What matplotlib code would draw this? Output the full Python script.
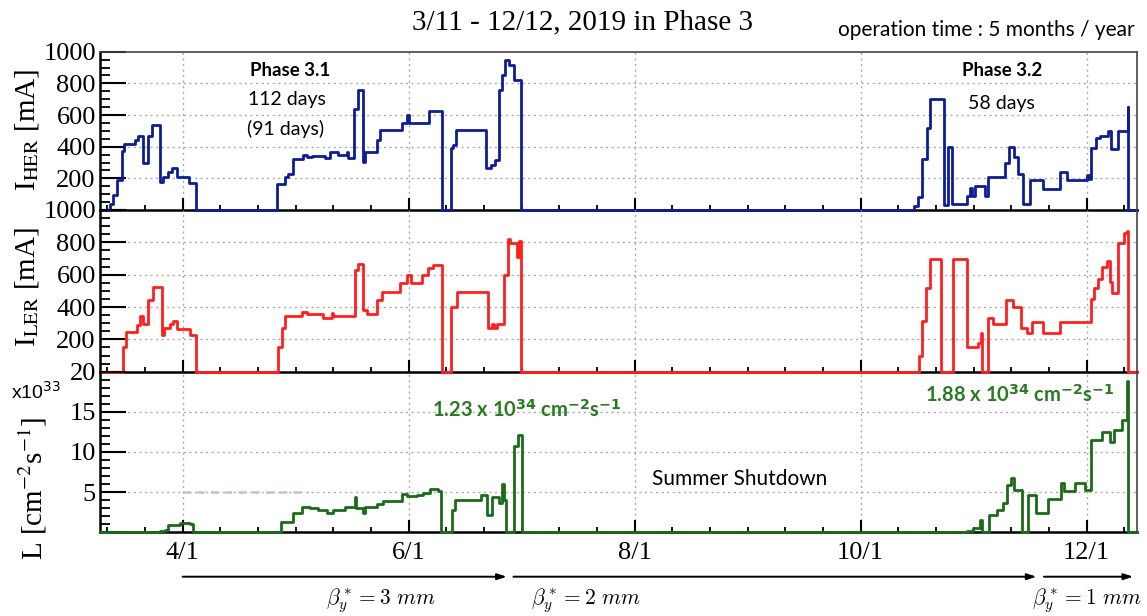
import matplotlib
matplotlib.use("Agg")
import matplotlib.pyplot as plt
import numpy as np
from matplotlib.transforms import blended_transform_factory

# ---------------- data (day of year 2019) ----------------
her_days = [68.7, 69.5, 71.4, 72.2, 73.3, 74.6, 75.2, 78.1, 79.0, 80.3, 81.7, 82.7, 84.9, 85.7,
            87.1, 88.1, 89.5, 92.7, 94.6, 116.5, 118.6, 119.4, 120.8, 123.5, 124.6, 125.9,
            129.4, 130.8, 132.9, 135.4, 135.6, 137.3, 138.3, 139.7, 140.2, 143.5, 144.3,
            150.2, 151.6, 152.1, 157.4, 161.0, 163.4, 164.0, 164.8, 173.0, 174.2, 175.3,
            176.4, 177.2, 178.0, 179.1, 180.4, 182.3,
            288.4, 289.5, 290.7, 291.9, 292.7, 296.6, 297.6, 298.7, 302.8, 303.5, 304.2,
            304.9, 307.6, 308.5, 312.9, 314.2, 315.3, 316.6, 317.8, 319.8, 323.3, 327.9,
            329.8, 335.2, 335.6, 336.3, 337.5, 338.7, 340.7, 341.6, 343.4, 346.1, 346.3, 348.7]
her_vals = [0, 0, 40, 95, 190, 370, 420, 440, 470, 300, 470, 540, 180, 210,
            240, 265, 210, 170, 0, 165, 210, 230, 320, 345, 335, 340,
            330, 365, 350, 365, 330, 640, 755, 305, 365, 440, 505,
            550, 600, 550, 625, 0, 390, 410, 505, 265, 285, 315,
            757, 850, 947, 915, 820, 0,
            25, 85, 322, 518, 703, 32, 396, 40, 88, 141, 88,
            152, 88, 210, 294, 396, 337, 227, 38, 188, 135, 243,
            188, 220, 195, 391, 455, 470, 502, 385, 502, 650, 0, 0]

ler_days = [68.7, 74.8, 75.7, 78.6, 79.5, 80.4, 81.6, 82.9, 85.4, 86.0, 87.6, 88.5, 89.4, 93.0,
            94.5, 116.7, 117.7, 118.6, 123.1, 124.5, 129.0, 131.2, 131.7, 137.5, 138.4,
            139.8, 140.7, 143.4, 144.7, 149.7, 151.5, 152.6, 155.5, 157.3, 158.7, 161.1,
            163.4, 165.0, 173.5, 174.4, 175.0, 175.9, 177.7, 178.7, 179.5, 181.3, 181.9, 182.3,
            289.8, 290.7, 291.6, 292.7, 295.6, 299.0, 302.8, 305.8, 306.4, 306.8, 308.5,
            309.8, 313.2, 315.2, 317.2, 318.8, 320.3, 323.3, 327.8, 336.1, 337.1, 338.1,
            339.3, 340.4, 341.3, 341.9, 343.4, 345.2, 345.8, 346.2, 348.7]
ler_vals = [0, 155, 247, 289, 346, 295, 443, 522, 227, 270, 295, 313, 262, 227,
            0, 155, 270, 344, 371, 354, 332, 361, 344, 629, 666,
            381, 354, 443, 495, 547, 598, 547, 598, 643, 660, 0,
            398, 495, 268, 295, 268, 295, 598, 819, 797, 711, 808, 0,
            97, 316, 516, 695, 0, 695, 155, 175, 241, 0, 330,
            295, 443, 398, 268, 241, 309, 241, 309, 448, 516, 573,
            646, 686, 557, 485, 798, 856, 869, 0, 0]

lum_days = [68.7, 84.9, 86.2, 87.1, 90.3, 93.0, 93.9, 117.6, 120.7, 123.1, 125.4, 127.6,
            129.9, 131.7, 134.8, 137.5, 137.8, 139.8, 140.2, 142.0, 143.4, 145.2, 150.1,
            151.5, 154.2, 156.0, 157.8, 160.0, 160.7, 163.6, 164.5, 171.5, 173.1, 174.4,
            176.4, 177.1, 177.7, 178.4, 180.4, 181.4, 182.5,
            302.6, 304.4, 306.2, 306.7, 308.7, 310.8, 312.4, 313.4, 314.5, 315.4, 317.7,
            319.1, 321.4, 324.7, 328.0, 329.0, 332.0, 334.6, 336.2, 339.2, 341.2, 342.5,
            344.5, 345.9, 346.2, 348.7]
lum_vals = [0, 0.1, 0.3, 0.9, 1.2, 1.0, 0, 1.3, 2.4, 3.1, 3.0, 2.8,
            2.4, 2.8, 3.1, 4.4, 3.0, 2.4, 3.1, 3.2, 3.5, 3.9, 4.8,
            4.5, 4.6, 4.9, 5.35, 5.2, 0, 2.8, 4.0, 4.6, 2.2, 4.4,
            3.6, 6.0, 4.0, 0, 10.7, 12.1, 0,
            0.2, 0.5, 1.5, 0, 2.2, 2.8, 3.6, 5.9, 6.7, 5.3, 0,
            4.6, 2.4, 4.2, 6.1, 5.1, 6.1, 5.3, 11.5, 12.5, 11.3, 12.7,
            14.0, 18.8, 0, 0]

month_ticks = [91, 152, 213, 274, 335]
month_labels = ["4/1", "6/1", "8/1", "10/1", "12/1"]
x_range = (68.7, 348.7)

beta_arrows = [(91.0, 178.5), (180.3, 321.5), (323.5, 347.6)]
beta_values = ["3", "2", "1"]
beta_label_x = [144.5, 199.9, 335.0]

# ---------------- style ----------------
SERIF = ["Liberation Serif", "DejaVu Serif"]
SANS = ["Lato", "DejaVu Sans"]
C_HER = "#0c1d96"
C_LER = "#ff1f1f"
C_L = "#1b6b1b"
C_TXT_G = "#2a7a22"

W, H = 1147, 616
fig = plt.figure(figsize=(W / 100, H / 100), dpi=100)

def rect(top, bottom, left=100, right=1137.3):
    return [left / W, 1 - bottom / H, (right - left) / W, (bottom - top) / H]

ax1 = fig.add_axes(rect(51.7, 210))
ax2 = fig.add_axes(rect(210, 371.7))
ax3 = fig.add_axes(rect(371.7, 532.3))

minor_x = np.arange(month_ticks[0] - 61, x_range[1] + 1, 61 / 6)
minor_x = minor_x[(minor_x > x_range[0]) & (minor_x < x_range[1])]

def style(ax, ymax, ystep, yminor, show_x):
    yt = np.arange(0, ymax + 0.001, ystep)
    ax.set_yticks(yt)
    ax.set_yticklabels([""] + ["%g" % v for v in yt[1:]])
    ax.set_yticks(np.arange(0, ymax + 0.001, yminor), minor=True)
    ax.set_xticks(month_ticks)
    ax.set_xticks(minor_x, minor=True)
    ax.set_xticklabels(month_labels if show_x else [""] * len(month_ticks))
    ax.set_xlim(*x_range)
    ax.set_ylim(0, ymax)
    ax.tick_params(axis="y", which="major", direction="in", length=19, width=1.5,
                   labelsize=19, pad=3, right=False)
    ax.tick_params(axis="y", which="minor", direction="in", length=7, width=1.3, right=False)
    ax.tick_params(axis="x", which="major", direction="in", length=8.5, width=1.5,
                   labelsize=19, pad=7, top=False)
    ax.tick_params(axis="x", which="minor", direction="in", length=3.5, width=1.3, top=False)
    for lab in ax.get_xticklabels() + ax.get_yticklabels():
        lab.set_family(SERIF)
    for s in ["top", "right"]:
        ax.spines[s].set_color("#444444")
        ax.spines[s].set_linewidth(1.2)
    for s in ["left", "bottom"]:
        ax.spines[s].set_color("black")
        ax.spines[s].set_linewidth(1.8)
    for v in yt[1:-1]:
        ax.axhline(v, color="#aaaaaa", lw=1.0, ls=(0, (1.5, 2.5)), zorder=0)
    for v in month_ticks:
        ax.axvline(v, color="#aaaaaa", lw=1.0, ls=(0, (1.5, 2.5)), zorder=0)
    ax.patch.set_alpha(0)

style(ax1, 1000, 200, 50, False)
style(ax2, 1000, 200, 50, False)
style(ax3, 20, 5, 1, True)
ax2.spines["top"].set_visible(False)
ax3.spines["top"].set_visible(False)

ax1.step(her_days, her_vals, where="post", color=C_HER, lw=2.0, zorder=3, clip_on=False)
ax2.step(ler_days, ler_vals, where="post", color=C_LER, lw=2.0, zorder=3, clip_on=False)
ax3.step(lum_days, lum_vals, where="post", color=C_L, lw=2.0, zorder=3, clip_on=False)
ax3.plot([month_ticks[0], 124.8], [5, 5], color="#c9c3bb", lw=1.8, ls=(0, (3, 2.5)), zorder=2)
for ax in (ax1, ax2, ax3):
    ax.set_xlim(*x_range)

# ---------------- texts ----------------
def fx(px):
    return px / W

def fy(py):
    return 1 - py / H

fig.text(fx(583), fy(22), "3/11 - 12/12, 2019 in Phase 3", family=SERIF, fontsize=21,
         ha="center", va="center")
fig.text(fx(1135), fy(30), "operation time : 5 months / year", family=SANS, fontsize=15,
         ha="right", va="center")

fig.text(fx(27), fy(130), r"I$_{\mathrm{HER}}$ [mA]", family=SERIF, fontsize=21,
         rotation=90, ha="center", va="center", math_fontfamily="stix")
fig.text(fx(27), fy(287), r"I$_{\mathrm{LER}}$ [mA]", family=SERIF, fontsize=21,
         rotation=90, ha="center", va="center", math_fontfamily="stix")
fig.text(fx(33), fy(488), r"L [cm$^{\mathrm{-2}}$s$^{\mathrm{-1}}$]", family=SERIF, fontsize=21,
         rotation=90, ha="center", va="center", math_fontfamily="stix")
fig.text(fx(36), fy(392), r"x10$^{33}$", family=["Liberation Sans"], fontsize=14,
         ha="center", va="center", math_fontfamily="dejavusans")

fig.text(fx(290), fy(71), "Phase 3.1", family=SANS, fontsize=13.5, weight="bold",
         ha="center", va="center")
fig.text(fx(287), fy(100), "112 days", family=SANS, fontsize=14, ha="center", va="center")
fig.text(fx(286), fy(129), "(91 days)", family=SANS, fontsize=14, ha="center", va="center")
fig.text(fx(1002), fy(71), "Phase 3.2", family=SANS, fontsize=13.5, weight="bold",
         ha="center", va="center")
fig.text(fx(1001), fy(104), "58 days", family=SANS, fontsize=14, ha="center", va="center")
fig.text(fx(740), fy(479), "Summer Shutdown", family=SANS, fontsize=15, ha="center", va="center")

fig.text(fx(527), fy(410), r"1.23 x 10$^{\mathbf{34}}$ cm$^{\mathbf{-2}}$s$^{\mathbf{-1}}$",
         family=SANS, fontsize=14.5, weight="bold", color=C_TXT_G, ha="center", va="center",
         math_fontfamily="dejavusans")
fig.text(fx(1020), fy(395), r"1.88 x 10$^{\mathbf{34}}$ cm$^{\mathbf{-2}}$s$^{\mathbf{-1}}$",
         family=SANS, fontsize=14.5, weight="bold", color=C_TXT_G, ha="center", va="center",
         math_fontfamily="dejavusans")

# ---------------- beta arrows ----------------
tr = blended_transform_factory(ax3.transData, fig.transFigure)
for (x0, x1), b, lx in zip(beta_arrows, beta_values, beta_label_x):
    ax3.annotate("", xy=(x1, fy(576.7)), xytext=(x0, fy(576.7)), xycoords=tr, textcoords=tr,
                 arrowprops=dict(arrowstyle="-|>,head_length=0.55,head_width=0.18",
                                 color="black", lw=1.4, shrinkA=0, shrinkB=0),
                 annotation_clip=False)
    ax3.text(lx, fy(601), r"$\beta_y^* = %s\ mm$" % b, transform=tr, fontsize=15.5,
             ha="center", va="center", math_fontfamily="cm", clip_on=False)

fig.savefig("out.png", dpi=100)
